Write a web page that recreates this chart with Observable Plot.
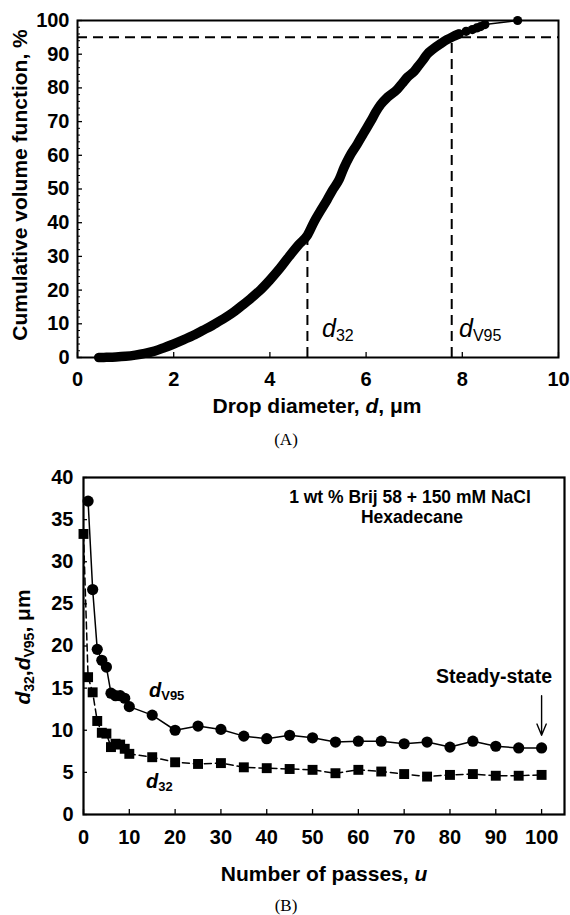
<!DOCTYPE html>
<html><head><meta charset="utf-8">
<script src="https://cdn.jsdelivr.net/npm/d3@7"></script>
<script src="https://cdn.jsdelivr.net/npm/@observablehq/plot@0.6"></script>
<style>
body{margin:0;background:#fff;}
#wrap{position:relative;width:570px;height:915px;overflow:hidden;background:#fff;}
#wrap svg{position:absolute;left:0;display:block;overflow:visible;}
</style></head><body><div id="wrap"></div>
<script>
// ---------- Panel A data: cumulative volume function vs drop diameter ----------
const diamA = [0.44,0.6,0.8,1.0,1.2,1.4,1.6,1.8,2.0,2.2,2.4,2.6,2.8,3.0,3.2,3.4,3.6,3.8,4.0,4.2,4.4,4.6,4.78,4.92,5.05,5.19,5.3,5.44,5.54,5.65,5.82,5.95,6.1,6.2,6.3,6.45,6.65,6.75,6.86,7.0,7.07,7.18,7.27,7.4,7.55,7.68,7.8,7.93];
const cumA  = [0,0.05,0.15,0.35,0.7,1.2,1.9,2.9,4.0,5.2,6.5,8.0,9.5,11.2,13.0,15.2,17.5,20.0,23.0,26.3,30.0,33.5,36.3,40.3,43.5,46.8,49.6,52.8,56.3,59.5,63.4,66.6,70.2,72.8,75.0,77.3,79.6,81.3,83.2,84.9,86.2,88.2,90.0,91.6,93.1,94.3,95.2,96.0];
const tailD = [7.93,8.08,8.21,8.3,8.38,8.47,9.15];
const tailC = [96.0,96.8,97.3,97.8,98.2,98.8,100];
const markerNames = ["d32","dV95"];
const markerD = [4.78,7.78];
const markerC = [36.3,95];
const xTicksA = [0,2,4,6,8,10];
const yTicksA = [0,10,20,30,40,50,60,70,80,90,100];
const yMinorA = [2,4,6,8,12,14,16,18,22,24,26,28,32,34,36,38,42,44,46,48,52,54,56,58,62,64,66,68,72,74,76,78,82,84,86,88,92,94,96,98];

// ---------- Panel B data: d32 and dV95 vs number of passes ----------
const passesV = [1,2,3,4,5,6,7,8,9,10,15,20,25,30,35,40,45,50,55,60,65,70,75,80,85,90,95,100];
const dV95    = [37.2,26.7,19.6,18.3,17.5,14.4,14.1,14.1,13.8,12.8,11.8,10.0,10.5,10.1,9.3,9.0,9.4,9.1,8.6,8.7,8.7,8.4,8.6,8.0,8.7,8.1,7.9,7.9];
const passesS = [0,1,2,3,4,5,6,7,8,9,10,15,20,25,30,35,40,45,50,55,60,65,70,75,80,85,90,95,100];
const d32     = [33.3,16.3,14.5,11.1,9.7,9.6,8.0,8.4,8.3,7.8,7.2,6.8,6.2,6.0,6.1,5.6,5.5,5.4,5.3,4.9,5.3,5.1,4.8,4.5,4.7,4.8,4.6,4.6,4.7];
const xTicksB = [0,10,20,30,40,50,60,70,80,90,100];
const yTicksB = [0,5,10,15,20,25,30,35,40];

const FONT = "'Liberation Sans', Arial, Helvetica, sans-serif";
const SERIF = "'Liberation Serif', 'Times New Roman', serif";
const W = 570;
const wrap = document.getElementById("wrap");

// ===== Panel A =====
const mA = {top:20, bottom:93, left:77, right:12};
const HA = 450;
const innerHA = HA - mA.top - mA.bottom;
const innerWA = W - mA.left - mA.right;
const curve = diamA.map((d,i)=>({d, c: cumA[i]}));
const tail = tailD.map((d,i)=>({d, c: tailC[i]}));
const markers = markerNames.map((n,i)=>({n, d: markerD[i], c: markerC[i]}));

const plotA = Plot.plot({
  width: W, height: HA,
  marginTop: mA.top, marginBottom: mA.bottom, marginLeft: mA.left, marginRight: mA.right,
  style: {fontFamily: FONT, fontWeight: "bold", fontSize: "20px", color: "#000", background: "transparent"},
  x: {domain: [0,10]},
  y: {domain: [0,100]},
  marks: [
    Plot.ruleY([95], {stroke: "#000", strokeWidth: 2, strokeDasharray: "10,6"}),
    Plot.ruleX(markers, {x: "d", y1: 0, y2: "c", stroke: "#000", strokeWidth: 2, strokeDasharray: "10,6"}),
    Plot.line(tail, {x: "d", y: "c", stroke: "#000", strokeWidth: 1.5}),
    Plot.dot(tail, {x: "d", y: "c", r: 4.6, fill: "#000", stroke: "none"}),
    Plot.line(curve, {x: "d", y: "c", stroke: "#000", strokeWidth: 9.5, strokeLinecap: "round", strokeLinejoin: "round", curve: "monotone-x"}),
    Plot.ruleX(xTicksA, {insetTop: innerHA - 5, stroke: "#000", strokeWidth: 1.3}),
    Plot.ruleY(yMinorA, {insetRight: innerWA - 3, stroke: "#000", strokeWidth: 1}),
    Plot.ruleY(yTicksA, {insetRight: innerWA - 5, stroke: "#000", strokeWidth: 1.3}),
    Plot.axisX({ticks: xTicksA, tickSize: 0, tickPadding: 14, label: null, tickFormat: d => String(d)}),
    Plot.axisY({ticks: yTicksA, tickSize: 0, tickPadding: 8, label: null, tickFormat: d => String(d)}),
    Plot.frame({stroke: "#000", strokeWidth: 2})
  ]
});
plotA.style.top = "0px";
wrap.appendChild(plotA);

function txt(sel, x, y, anchor, size, weight, family) {
  return sel.append("text").attr("x", x).attr("y", y).attr("text-anchor", anchor)
    .style("font-family", family || FONT).style("font-weight", weight).style("font-size", size + "px")
    .style("font-style", "normal").attr("fill", "#000");
}
function subLabel(sel, x, y, sub, big, small, weight) {
  const t = txt(sel, x, y, "start", big, weight);
  t.append("tspan").style("font-style", "italic").text("d");
  t.append("tspan").style("font-size", small + "px").attr("dy", big * 0.14).text(sub);
  return t;
}

const sA = d3.select(plotA);
const tAx = txt(sA, 317, 413, "middle", 21, "bold");
tAx.append("tspan").text("Drop diameter, ");
tAx.append("tspan").style("font-style", "italic").text("d");
tAx.append("tspan").text(", \u03bcm");
txt(sA, 0, 0, "middle", 21, "bold").attr("x", null).attr("y", null)
  .attr("transform", "translate(27,185) rotate(-90)").text("Cumulative volume function, %");
txt(sA, 286, 445, "middle", 17, "normal", SERIF).text("(A)");
subLabel(sA, 322, 337, "32", 25, 16, "normal");
subLabel(sA, 459, 337, "V95", 25, 16, "normal");

// ===== Panel B =====
const mB = {top:27, bottom:101, left:83, right:6};
const HB = 465;
const innerHB = HB - mB.top - mB.bottom;
const innerWB = W - mB.left - mB.right;
const seriesV = passesV.map((u,i)=>({u, v: dV95[i]}));
const seriesS = passesS.map((u,i)=>({u, v: d32[i]}));

const plotB = Plot.plot({
  width: W, height: HB,
  marginTop: mB.top, marginBottom: mB.bottom, marginLeft: mB.left, marginRight: mB.right,
  style: {fontFamily: FONT, fontWeight: "bold", fontSize: "20px", color: "#000", background: "transparent"},
  x: {domain: [0,105]},
  y: {domain: [0,40]},
  marks: [
    Plot.ruleX(xTicksB, {insetTop: innerHB - 5, stroke: "#000", strokeWidth: 1.3}),
    Plot.ruleY(yTicksB, {insetRight: innerWB - 4, stroke: "#000", strokeWidth: 1.3}),
    Plot.line(seriesS, {x: "u", y: "v", stroke: "#000", strokeWidth: 1.5, strokeDasharray: "7,4"}),
    Plot.dot(seriesS, {x: "u", y: "v", symbol: "square", r: 5.6, fill: "#000", stroke: "none"}),
    Plot.line(seriesV, {x: "u", y: "v", stroke: "#000", strokeWidth: 1.5}),
    Plot.dot(seriesV, {x: "u", y: "v", symbol: "circle", r: 5.6, fill: "#000", stroke: "none"}),
    Plot.arrow({length: 1}, {x1: 100, y1: 14.1, x2: 100, y2: 9.4, stroke: "#000", strokeWidth: 1.4, headLength: 13, headAngle: 45}),
    Plot.axisX({ticks: xTicksB, tickSize: 0, tickPadding: 15, label: null, tickFormat: d => String(d)}),
    Plot.axisY({ticks: yTicksB, tickSize: 0, tickPadding: 10, label: null, tickFormat: d => String(d)}),
    Plot.frame({stroke: "#000", strokeWidth: 2.2})
  ]
});
plotB.style.top = "450px";
wrap.appendChild(plotB);

const sB = d3.select(plotB);
const tBx = txt(sB, 324, 431, "middle", 21, "bold");
tBx.append("tspan").text("Number of passes, ");
tBx.append("tspan").style("font-style", "italic").text("u");
txt(sB, 286, 461, "middle", 17, "normal", SERIF).text("(B)");
const tBy = txt(sB, 0, 0, "middle", 21, "bold").attr("x", null).attr("y", null)
  .attr("transform", "translate(30,197) rotate(-90)");
tBy.append("tspan").style("font-style", "italic").text("d");
tBy.append("tspan").style("font-size", "14px").attr("dy", 4).text("32");
tBy.append("tspan").attr("dy", -4).text(",");
tBy.append("tspan").style("font-style", "italic").text("d");
tBy.append("tspan").style("font-size", "14px").attr("dy", 4).text("V95");
tBy.append("tspan").attr("dy", -4).text(", \u03bcm");
txt(sB, 410, 53, "middle", 17.5, "bold").text("1 wt % Brij 58 + 150 mM NaCl");
txt(sB, 412, 73, "middle", 17.5, "bold").text("Hexadecane");
txt(sB, 552, 233, "end", 19.5, "bold").text("Steady-state");
subLabel(sB, 149, 247, "V95", 20, 13, "bold");
subLabel(sB, 146, 338, "32", 20, 13, "bold");
</script></body></html>
